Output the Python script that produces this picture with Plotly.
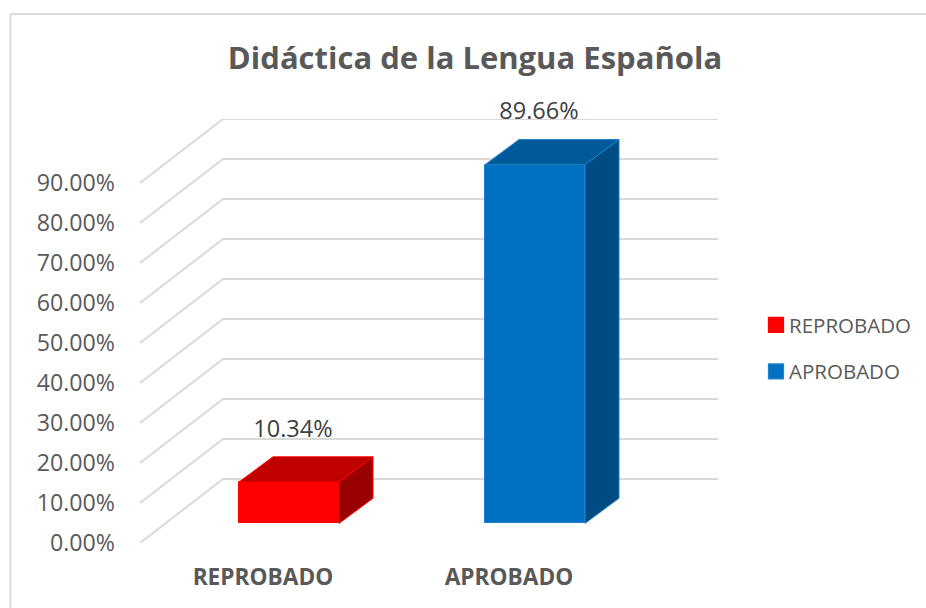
import plotly.graph_objects as go

categories = ["REPROBADO", "APROBADO"]
values = [10.34, 89.66]
tick_values = [0, 10, 20, 30, 40, 50, 60, 70, 80, 90]
tick_labels = ["0.00%", "10.00%", "20.00%", "30.00%", "40.00%", "50.00%", "60.00%", "70.00%", "80.00%", "90.00%"]
title_text = "Didáctica de la Lengua Española"

FONT = "Open Sans"
TEXT = "#595959"
GRID = "#D9D9D9"
front_colors = ["#FF0000", "#0070C0"]
edge_colors = ["#FF0000", "#1F80CC"]
top_colors = ["#C00000", "#005A9A"]
side_colors = ["#990000", "#004C82"]

W, H = 926, 608
L, R, T, B = 140, 208, 119, 65
PLOT_W = W - L - R
PLOT_H = H - T - B
Y_MAX = 106

bar_centers = [149, 395]
label_centers = [123, 369]
bar_width = 100
bar_base = 4.9
depth_x = 34
depth_y = 6.3
wall_x = 83
wall_y = 16
label_gap = 3.6
value_dx = 4

fig = go.Figure()

for i, cat in enumerate(categories):
    c, v = bar_centers[i], values[i]
    x0, x1 = c - bar_width / 2, c + bar_width / 2
    y0, y1 = bar_base, bar_base + v
    fig.add_trace(go.Bar(
        x=[c], y=[v], base=[y0], width=[bar_width], name=cat,
        marker=dict(color=front_colors[i], line=dict(color=edge_colors[i], width=1)),
        legendgroup=cat,
    ))
    fig.add_trace(go.Scatter(
        x=[x0, x0 + depth_x, x1 + depth_x, x1, x0],
        y=[y1, y1 + depth_y, y1 + depth_y, y1, y1],
        mode="lines", fill="toself", fillcolor=top_colors[i],
        line=dict(color=edge_colors[i], width=1),
        showlegend=False, hoverinfo="skip",
    ))
    fig.add_trace(go.Scatter(
        x=[x1, x1 + depth_x, x1 + depth_x, x1, x1],
        y=[y0, y0 + depth_y, y1 + depth_y, y1, y0],
        mode="lines", fill="toself", fillcolor=side_colors[i],
        line=dict(color=edge_colors[i], width=1),
        showlegend=False, hoverinfo="skip",
    ))
    fig.add_trace(go.Scatter(
        x=[c + value_dx], y=[y1 + depth_y + label_gap],
        mode="text", text=[f"{v:.2f}%"], textposition="top center",
        textfont=dict(family=FONT, size=23.5, color="#404040"),
        showlegend=False, hoverinfo="skip", cliponaxis=False,
    ))

for t in tick_values:
    fig.add_shape(type="line", xref="x", yref="y", layer="below",
                  x0=0, y0=t, x1=wall_x, y1=t + wall_y,
                  line=dict(color=GRID, width=2))
    fig.add_shape(type="line", xref="x", yref="y", layer="below",
                  x0=wall_x, y0=t + wall_y, x1=PLOT_W, y1=t + wall_y,
                  line=dict(color=GRID, width=2))

# chart frame (top and left edges)
px = lambda x: (x - L) / PLOT_W
py = lambda y: (H - B - y) / PLOT_H
fig.add_shape(type="line", xref="paper", yref="paper", x0=px(10.5), y0=py(14), x1=px(926), y1=py(14),
              line=dict(color=GRID, width=2))
fig.add_shape(type="line", xref="paper", yref="paper", x0=px(10.5), y0=py(14), x1=px(10.5), y1=py(608),
              line=dict(color=GRID, width=2))

fig.update_layout(
    width=W, height=H,
    margin=dict(l=L, r=R, t=T, b=B, autoexpand=False),
    paper_bgcolor="white", plot_bgcolor="rgba(0,0,0,0)",
    bargap=0,
    showlegend=True,
    title=dict(text=title_text, font=dict(family=FONT, size=31, color=TEXT, weight=700),
               xref="container", yref="container", x=475 / W, y=1 - 58 / H,
               xanchor="center", yanchor="middle"),
    legend=dict(x=px(749), y=py(305), xanchor="left", yanchor="top",
                font=dict(family=FONT, size=20.5, color=TEXT),
                bgcolor="rgba(0,0,0,0)", tracegroupgap=17, itemclick=False),
    xaxis=dict(range=[0, PLOT_W], tickvals=label_centers, ticktext=categories,
               showgrid=False, zeroline=False, showline=False, ticks="",
               ticklabelstandoff=18,
               tickfont=dict(family=FONT, size=22.7, color=TEXT, weight=700)),
    yaxis=dict(range=[0, Y_MAX], tickvals=tick_values, ticktext=tick_labels,
               showgrid=False, zeroline=False, showline=False, ticks="",
               ticklabelstandoff=24,
               tickfont=dict(family=FONT, size=23.2, color=TEXT)),
)

post = """
document.documentElement.style.margin='0';
document.body.style.margin='0';
document.body.style.overflow='hidden';
var gd=document.getElementById('{plot_id}');
function fixLegend(){
  gd.querySelectorAll('.legend g.legendpoints path').forEach(function(p){
    p.setAttribute('transform','translate(27,0) scale(1.25)');
  });
}
fixLegend();
if(gd.on){gd.on('plotly_afterplot',fixLegend);}
setTimeout(fixLegend,50);
"""
fig.write_html("out.html", post_script=post, config={"displayModeBar": False})
